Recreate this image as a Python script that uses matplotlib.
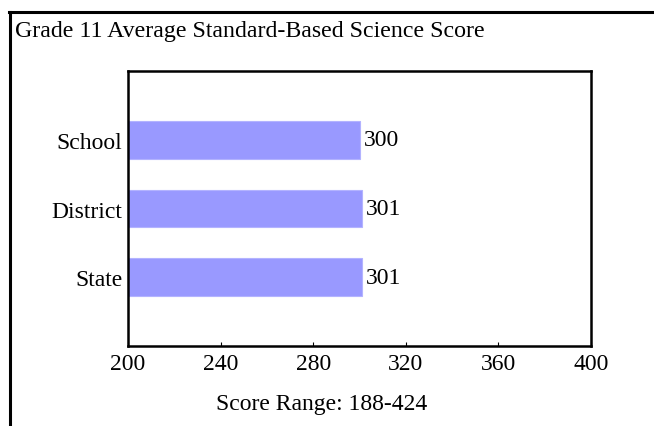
import matplotlib
matplotlib.use("Agg")
import matplotlib.pyplot as plt
from matplotlib.lines import Line2D

categories = ["School", "District", "State"]
scores = [300, 301, 301]
xticks = [200, 240, 280, 320, 360, 400]
title = "Grade 11 Average Standard-Based Science Score"
footer = "Score Range: 188-424"

plt.rcParams['font.family'] = ['Liberation Serif', 'DejaVu Serif']

W, H = 654, 427
fig = plt.figure(figsize=(W/100, H/100), dpi=100)

# outer frame lines (top and left)
fig.add_artist(Line2D([9/W, 654/W], [1-13/H, 1-13/H], color='black', lw=2.2, transform=fig.transFigure))
fig.add_artist(Line2D([10/W, 10/W], [1-13/H, 0], color='black', lw=2.2, transform=fig.transFigure))

fig.text(15/W, 1-37/H, title, fontsize=17.2, va='baseline', ha='left')

ax = fig.add_axes([128/W, 1-347/H, (591-128)/W, (347-72)/H])
pos = list(range(len(categories)))
ax.barh(pos, [s - 200 for s in scores], left=200, height=0.55, color='#9999FF', edgecolor='#B3B3FF', linewidth=0.8)
for p, s in zip(pos, scores):
    ax.annotate(str(s), xy=(s, p), xytext=(3, 0), textcoords='offset points',
                va='center', ha='left', fontsize=17)

ax.set_xlim(200, 400)
ax.set_ylim(3, -1)
ax.set_xticks(xticks)
ax.set_xticklabels([str(t) for t in xticks], fontsize=17)
ax.set_yticks(pos)
ax.set_yticklabels(categories, fontsize=17)
ax.tick_params(axis='x', direction='in', length=3, width=0.8, pad=5)
ax.tick_params(axis='y', length=0, pad=4)
for sp in ax.spines.values():
    sp.set_linewidth(1.8)

fig.text(322/W, 1-410/H, footer, fontsize=17, ha='center', va='baseline')

fig.savefig("out.png", dpi=100)
